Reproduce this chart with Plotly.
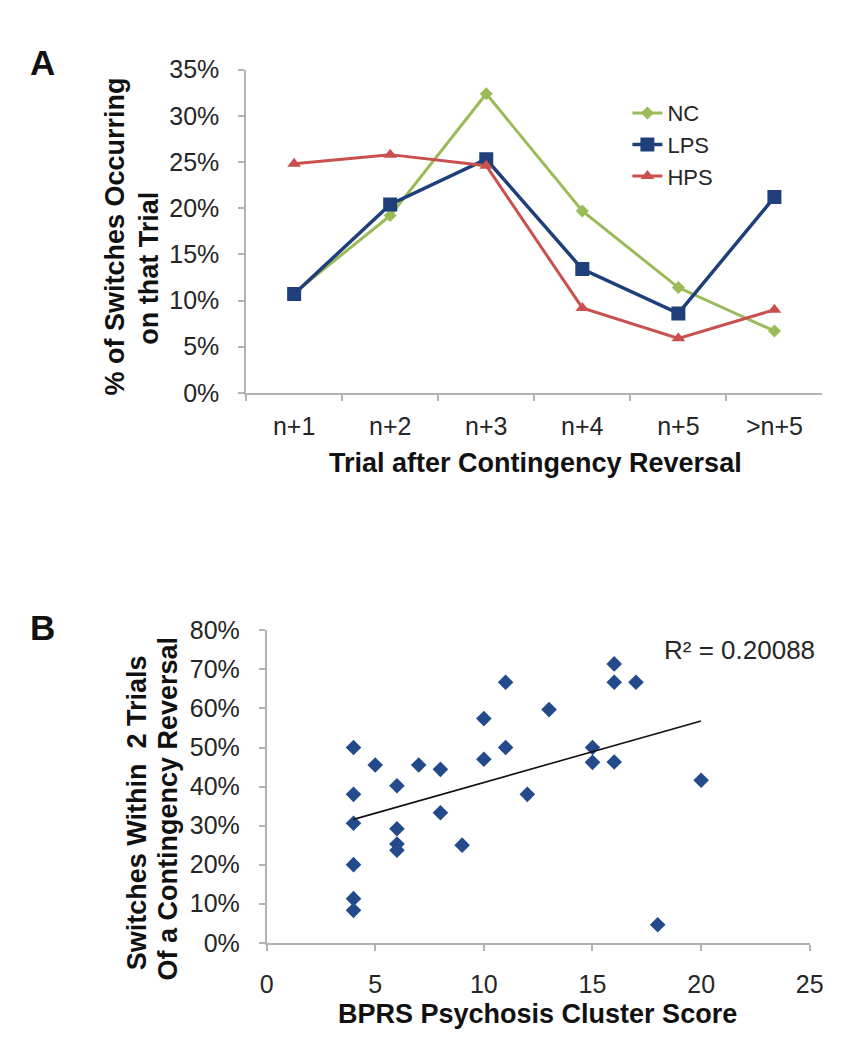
import numpy as np
import plotly.graph_objects as go

W, H = 846, 1050

# ---------------- Data ----------------
trials = ["n+1", "n+2", "n+3", "n+4", "n+5", ">n+5"]
nc_pct = [10.8, 19.2, 32.4, 19.7, 11.4, 6.7]
lps_pct = [10.7, 20.4, 25.3, 13.4, 8.6, 21.2]
hps_pct = [24.8, 25.8, 24.6, 9.2, 5.9, 9.0]

bprs_score = [4, 4, 4, 4, 4, 4, 5, 6, 6, 6, 6, 7, 8, 8, 9, 10, 10, 11, 11,
              12, 13, 15, 15, 16, 16, 16, 17, 18, 20]
switch_pct = [50.0, 38.0, 30.6, 20.0, 11.3, 8.3, 45.5, 40.2, 29.2, 25.3, 23.7,
              45.5, 44.4, 33.3, 25.0, 57.4, 47.0, 66.7, 50.0, 38.0, 59.7, 50.0,
              46.2, 71.4, 66.7, 46.3, 66.7, 4.6, 41.6]
r2_label = "R² = 0.20088"

# ---------------- Helpers ----------------
def px(x):
    return x / W

def py(y):
    return 1 - y / H

FONT = "Liberation Sans, Arial, sans-serif"
TXT = "#262626"
AX = "#b3b3b3"

fig = go.Figure()

# Panel A lines
fig.add_trace(go.Scatter(
    x=trials, y=nc_pct, name="NC", mode="lines+markers",
    line=dict(color="#9BBB59", width=3),
    marker=dict(symbol="diamond", size=10, color="#9BBB59"),
    xaxis="x", yaxis="y"))
fig.add_trace(go.Scatter(
    x=trials, y=lps_pct, name="LPS", mode="lines+markers",
    line=dict(color="#1F3F7A", width=3.5),
    marker=dict(symbol="square", size=14, color="#1F3F7A"),
    xaxis="x", yaxis="y"))
fig.add_trace(go.Scatter(
    x=trials, y=hps_pct, name="HPS", mode="lines+markers",
    line=dict(color="#C9504F", width=3),
    marker=dict(symbol="triangle-up", size=12, color="#C9504F"),
    xaxis="x", yaxis="y"))

# Panel B scatter + trend
fig.add_trace(go.Scatter(
    x=bprs_score, y=switch_pct, mode="markers", showlegend=False,
    marker=dict(symbol="diamond", size=12, color="#234A8A"),
    xaxis="x2", yaxis="y2"))
xs = np.array(bprs_score, dtype=float)
ys = np.array(switch_pct, dtype=float)
slope, intercept = np.polyfit(xs, ys, 1)
xline = np.array([xs.min(), xs.max()])
fig.add_trace(go.Scatter(
    x=xline, y=slope * xline + intercept, mode="lines", showlegend=False,
    line=dict(color="#111111", width=1.6),
    xaxis="x2", yaxis="y2"))

common_axis = dict(
    showline=True, linecolor=AX, linewidth=1.5, ticks="outside",
    tickcolor=AX, ticklen=6, tickwidth=1.5, showgrid=False, zeroline=False,
    tickfont=dict(family=FONT, size=25, color=TXT), fixedrange=True)

fig.update_layout(
    width=W, height=H, autosize=False,
    margin=dict(l=0, r=0, t=0, b=0),
    paper_bgcolor="white", plot_bgcolor="white",
    font=dict(family=FONT, color=TXT),
    xaxis=dict(common_axis, type="category", domain=[px(237), px(828)],
               range=[-0.5, 5.5], tickson="boundaries", anchor="y",
               ticklabelstandoff=10),
    yaxis=dict(common_axis, domain=[py(381), py(49)], range=[0, 35],
               dtick=5, ticksuffix="%", anchor="x", ticklabelstandoff=14),
    xaxis2=dict(common_axis, domain=[px(258), px(815)], range=[0, 25],
                dtick=5, anchor="y2", ticklabelstandoff=12),
    yaxis2=dict(common_axis, domain=[py(946), py(625)], range=[0, 80],
                dtick=10, ticksuffix="%", anchor="x2", ticklabelstandoff=14),
    legend=dict(x=px(628), y=py(72), xanchor="left", yanchor="top",
                bgcolor="rgba(0,0,0,0)",
                font=dict(family=FONT, size=22, color=TXT),
                itemwidth=30, tracegroupgap=0),
    showlegend=True,
)

ann = []
def add_text(text, x, y, size, bold=False, angle=0, xanchor="center"):
    ann.append(dict(
        text=("<b>%s</b>" % text) if bold else text,
        x=px(x), y=py(y), xref="paper", yref="paper",
        xanchor=xanchor, yanchor="middle", showarrow=False, textangle=angle,
        font=dict(family=FONT, size=size, color="#111111" if bold else TXT)))

add_text("A", 28, 42, 35, bold=True)
add_text("B", 28, 622, 35, bold=True)
add_text("% of Switches Occurring", 103, 220, 27, bold=True, angle=-90)
add_text("on that Trial", 138, 253, 27, bold=True, angle=-90)
add_text("Trial after Contingency Reversal", 534, 453, 27, bold=True)
add_text("Switches Within  2 Trials", 125, 812, 27, bold=True, angle=-90)
add_text("Of a Contingency Reversal", 157, 808, 27, bold=True, angle=-90)
add_text("BPRS Psychosis Cluster Score", 536, 1019, 27, bold=True)
add_text(r2_label, 663, 645, 26, xanchor="left")
fig.update_layout(annotations=ann)

fig.write_html("out.html")
